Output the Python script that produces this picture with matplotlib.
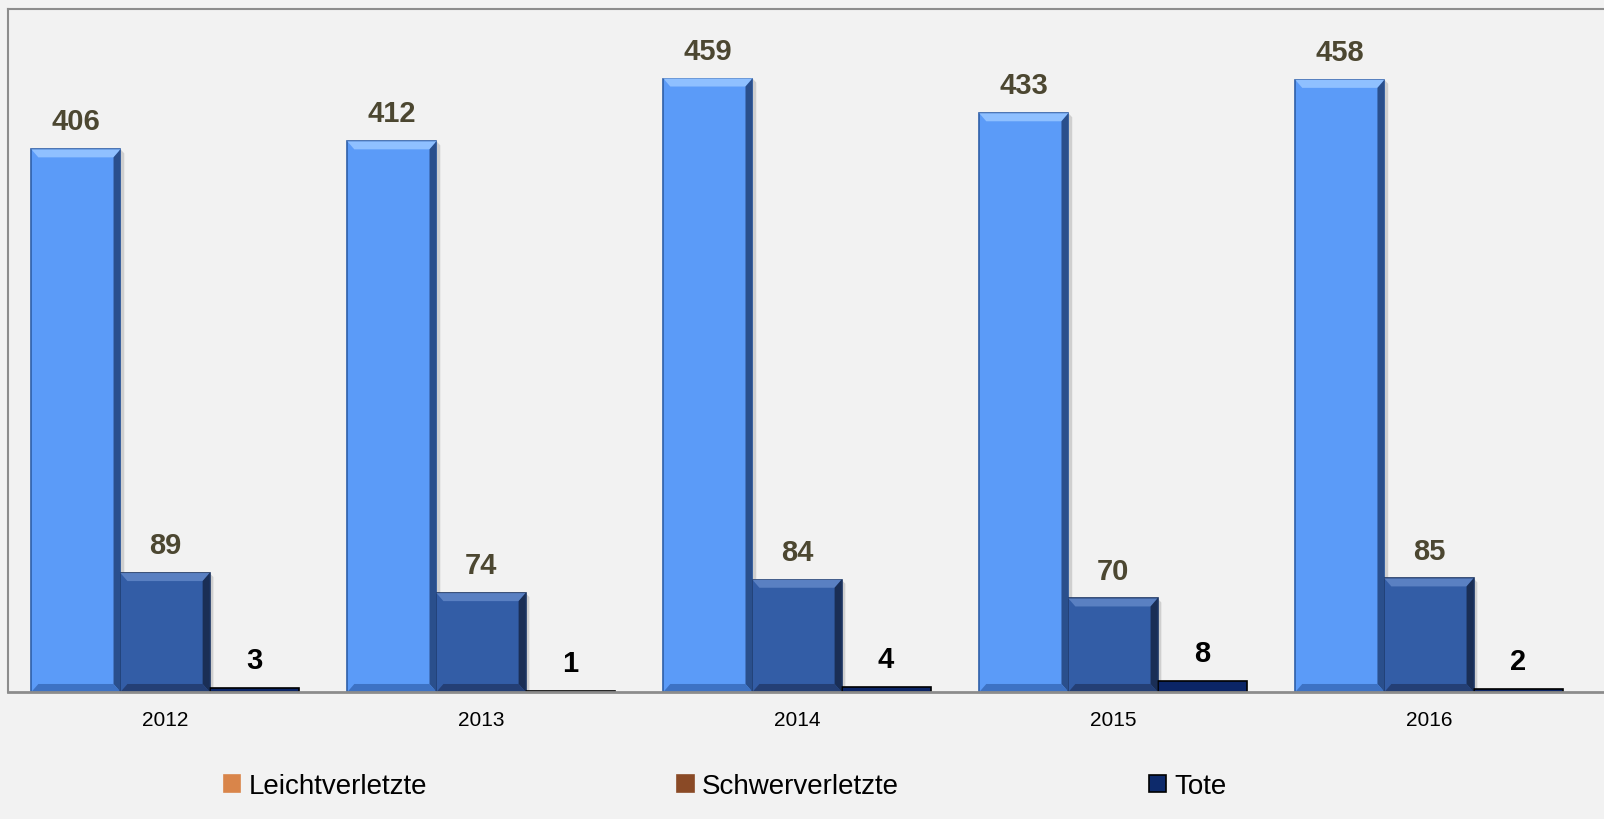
import matplotlib
matplotlib.use("Agg")
import matplotlib.pyplot as plt
from matplotlib.patches import Patch, Polygon
import numpy as np

years = ["2012", "2013", "2014", "2015", "2016"]
leicht = [406, 412, 459, 433, 458]
schwer = [89, 74, 84, 70, 85]
tote = [3, 1, 4, 8, 2]
series_names = ["Leichtverletzte", "Schwerverletzte", "Tote"]

bar_colors = ["#5B9BF8", "#335DA6", "#0B2566"]
edge_colors = ["#2F5FA8", "#1A3462", "#000000"]
top_colors = ["#8FC0FF", "#5A80C2", None]
right_colors = ["#2A4F8C", "#1A2E55", None]
bottom_colors = ["#3D72C4", "#243F75", None]
legend_colors = ["#D9854A", "#8A4A26", "#0D2A6B"]
label_colors = ["#4C4731", "#4C4731", "#000000"]

plt.rcParams['font.family'] = ['Liberation Sans', 'DejaVu Sans']
bg = "#F2F2F2"
fig = plt.figure(figsize=(16.04, 8.2), dpi=100, facecolor=bg)
ax = fig.add_axes([8/1604, 127/820, 1 - 8/1604, 683/820])
ax.set_facecolor(bg)
ax.set_xlim(-0.497, 4.554)
ax.set_ylim(0, 511)

x = np.arange(len(years))
w = 0.282
offsets = [-w, 0, w]
bx = 0.022   # bevel width in x data units
by = 6.0     # bevel height in y data units
for k, (vals, off, c, ec, lc) in enumerate(zip([leicht, schwer, tote], offsets, bar_colors, edge_colors, label_colors)):
    bars = ax.bar(x + off, vals, width=w, color=c, edgecolor=ec, linewidth=1.2, zorder=3)
    for b, v in zip(bars, vals):
        x0, x1 = b.get_x(), b.get_x() + b.get_width()
        if top_colors[k] is not None:
            ax.add_patch(Polygon([(x1, 0), (x1 + 0.012, 0), (x1 + 0.012, v - 3), (x1, v)],
                                 closed=True, facecolor="#CFCFCF", edgecolor="none", zorder=2))
            ax.add_patch(Polygon([(x0, v), (x1, v), (x1 - bx, v - by), (x0 + bx, v - by)],
                                 closed=True, facecolor=top_colors[k], edgecolor="none", zorder=4))
            ax.add_patch(Polygon([(x1, v), (x1, 0), (x1 - bx, by), (x1 - bx, v - by)],
                                 closed=True, facecolor=right_colors[k], edgecolor="none", zorder=4))
            ax.add_patch(Polygon([(x0, 0), (x1, 0), (x1 - bx, by), (x0 + bx, by)],
                                 closed=True, facecolor=bottom_colors[k], edgecolor="none", zorder=4))
        ax.annotate(str(v), (b.get_x() + b.get_width() / 2, v), xytext=(0, 10),
                    textcoords="offset points", ha="center", va="bottom",
                    fontsize=21, fontweight="bold", color=lc, zorder=5)

ax.set_yticks([])
ax.set_xticks(x)
ax.set_xticklabels(years, fontsize=15)
ax.tick_params(axis="x", length=0, pad=13)
for s in ["left", "top"]:
    ax.spines[s].set_color("#8C8C8C")
    ax.spines[s].set_linewidth(1.5)
ax.spines["right"].set_visible(False)
ax.spines["bottom"].set_color("#8C8C8C")
ax.spines["bottom"].set_linewidth(2)
ax.spines["bottom"].set_zorder(6)

handles = [Patch(facecolor=c, edgecolor=("#000000" if i == 2 else c), linewidth=1.2)
           for i, c in enumerate(legend_colors)]
fig.legend(handles, series_names, loc="center", bbox_to_anchor=(0.452, 0.04), ncol=3,
           frameon=False, fontsize=20, handlelength=0.6, handleheight=0.6,
           handletextpad=0.3, columnspacing=9.0)

fig.savefig("out.png", dpi=100, facecolor=bg)
